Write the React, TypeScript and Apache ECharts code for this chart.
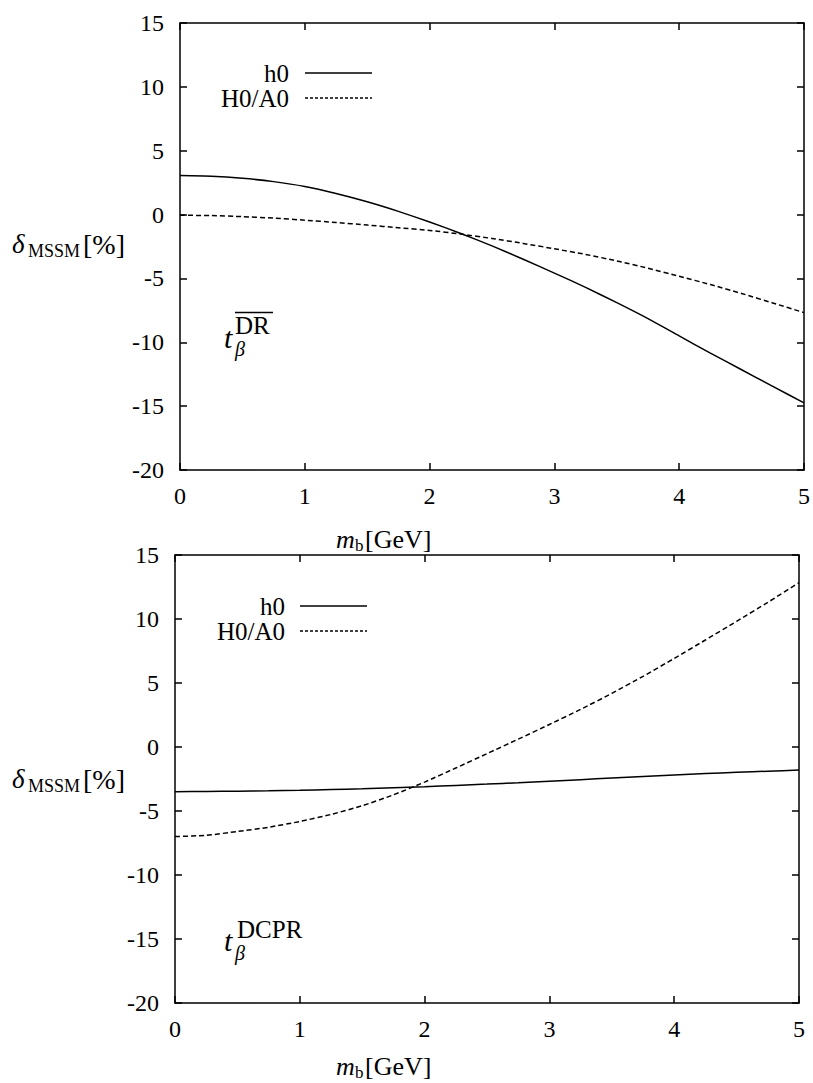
import React, { useEffect, useRef } from "react";
import * as echarts from "echarts";

// m_b [GeV]
const mb = [0, 0.25, 0.5, 0.75, 1, 1.25, 1.5, 1.75, 2, 2.25, 2.5, 2.75, 3, 3.25, 3.5, 3.75, 4, 4.25, 4.5, 4.75, 5];

// Upper panel (t_beta DR-bar), delta_MSSM [%]
const topH0 = [3.05, 3.0, 2.84, 2.58, 2.2, 1.65, 1.0, 0.25, -0.58, -1.48, -2.45, -3.5, -4.58, -5.7, -6.9, -8.15, -9.5, -10.85, -12.15, -13.45, -14.75];
const topHA = [-0.05, -0.08, -0.16, -0.28, -0.44, -0.62, -0.82, -1.03, -1.24, -1.53, -1.87, -2.26, -2.68, -3.12, -3.63, -4.2, -4.83, -5.48, -6.18, -6.92, -7.68];

// Lower panel (t_beta DCPR), delta_MSSM [%]
const botH0 = [-3.49, -3.48, -3.45, -3.42, -3.38, -3.33, -3.27, -3.19, -3.1, -3.0, -2.9, -2.79, -2.67, -2.55, -2.43, -2.31, -2.19, -2.08, -1.98, -1.89, -1.8];
const botHA = [-7.0, -6.9, -6.6, -6.27, -5.82, -5.27, -4.59, -3.74, -2.74, -1.64, -0.52, 0.61, 1.76, 2.94, 4.19, 5.52, 6.92, 8.36, 9.82, 11.3, 12.84];

const xTicks = [0, 1, 2, 3, 4, 5];
const yTicks = [-20, -15, -10, -5, 0, 5, 10, 15];
const legendNames = ["h0", "H0/A0"];

const SERIF = "'Liberation Serif', 'Times New Roman', Times, serif";
const BLACK = "#000";
const DASH = [5, 3];

function pairs(ys: number[]) {
  return mb.map((x, i) => [x, ys[i]]);
}

export default function App() {
  const ref = useRef<HTMLDivElement>(null);

  useEffect(() => {
    if (!ref.current) return;
    const chart = echarts.init(ref.current, undefined, { renderer: "svg" });

    const grids = [
      { left: 180, top: 23, width: 624, height: 447 },
      { left: 175, top: 555, width: 624, height: 448 },
    ];

    const axLine = { show: true, onZero: false, lineStyle: { color: BLACK, width: 1.5 } };
    const axTick = { show: true, inside: true, length: 7, lineStyle: { color: BLACK, width: 1.5 } };
    const labelStyle = { color: BLACK, fontFamily: SERIF, fontSize: 24 };

    const xAxis: any[] = [];
    const yAxis: any[] = [];
    grids.forEach((_, g) => {
      xAxis.push({
        gridIndex: g, type: "value", position: "bottom",
        min: xTicks[0], max: xTicks[xTicks.length - 1], interval: 1,
        axisLine: axLine, axisTick: axTick, splitLine: { show: false },
        axisLabel: { ...labelStyle, margin: 14 },
      });
      xAxis.push({
        gridIndex: g, type: "value", position: "top",
        min: xTicks[0], max: xTicks[xTicks.length - 1], interval: 1,
        axisLine: axLine, axisTick: axTick, splitLine: { show: false },
        axisLabel: { show: false },
      });
      yAxis.push({
        gridIndex: g, type: "value", position: "left",
        min: yTicks[0], max: yTicks[yTicks.length - 1], interval: 5,
        axisLine: axLine, axisTick: axTick, splitLine: { show: false },
        axisLabel: { ...labelStyle, margin: 16 },
      });
      yAxis.push({
        gridIndex: g, type: "value", position: "right",
        min: yTicks[0], max: yTicks[yTicks.length - 1], interval: 5,
        axisLine: axLine, axisTick: axTick, splitLine: { show: false },
        axisLabel: { show: false },
      });
    });

    const mkSeries = (name: string, ys: number[], g: number, dashed: boolean) => ({
      name, type: "line", xAxisIndex: g * 2, yAxisIndex: g * 2,
      data: pairs(ys), showSymbol: false, smooth: 0.2, clip: true,
      lineStyle: { color: BLACK, width: 1.5, type: dashed ? DASH : "solid" },
      itemStyle: { color: BLACK },
    });

    const txt = (x: number, y: number, text: string, size: number, opts: any = {}) => ({
      type: "text", x, y, silent: true,
      style: {
        text, fill: BLACK, fontFamily: SERIF, fontSize: size,
        fontStyle: opts.italic ? "italic" : "normal",
        align: opts.align || "left", verticalAlign: "middle",
      },
    });
    const ln = (x1: number, y1: number, x2: number, y2: number, dashed = false, w = 1.5) => ({
      type: "line", silent: true,
      shape: { x1, y1, x2, y2 },
      style: { stroke: BLACK, lineWidth: w, lineDash: dashed ? [3, 2] : null },
    });

    const graphic: any[] = [];
    // legends
    const legendPos = [
      { tx: 289, lx1: 305, lx2: 372, y1: 73, y2: 98 },
      { tx: 285, lx1: 300, lx2: 367, y1: 606, y2: 631 },
    ];
    legendPos.forEach((p) => {
      graphic.push(txt(p.tx, p.y1, legendNames[0], 25, { align: "right" }));
      graphic.push(ln(p.lx1, p.y1, p.lx2, p.y1));
      graphic.push(txt(p.tx, p.y2, legendNames[1], 25, { align: "right" }));
      graphic.push(ln(p.lx1, p.y2, p.lx2, p.y2, true));
    });

    // x axis titles
    [539, 1066].forEach((cy) => {
      const x0 = 336;
      graphic.push(txt(x0, cy, "m", 26, { italic: true }));
      graphic.push(txt(x0 + 19, cy + 6, "b", 17));
      graphic.push(txt(x0 + 29, cy, "[GeV]", 26));
    });

    // y axis titles
    [244, 779].forEach((cy) => {
      graphic.push(txt(12, cy, "δ", 27, { italic: true }));
      graphic.push(txt(28, cy + 7, "MSSM", 18));
      graphic.push(txt(83, cy, "[%]", 28));
    });

    // annotations
    graphic.push(txt(224, 337, "t", 30, { italic: true }));
    graphic.push(txt(235, 325, "DR", 25));
    graphic.push(ln(235, 312.5, 273, 312.5, false, 1.5));
    graphic.push(txt(235, 349, "β", 20, { italic: true }));

    graphic.push(txt(224, 940, "t", 30, { italic: true }));
    graphic.push(txt(237, 929, "DCPR", 25));
    graphic.push(txt(235, 953, "β", 20, { italic: true }));

    chart.setOption({
      animation: false,
      backgroundColor: "#fff",
      grid: grids.map((g) => ({ ...g, containLabel: false })),
      xAxis, yAxis,
      series: [
        mkSeries("h0", topH0, 0, false),
        mkSeries("H0/A0", topHA, 0, true),
        mkSeries("h0", botH0, 1, false),
        mkSeries("H0/A0", botHA, 1, true),
      ],
      graphic,
    });

    return () => chart.dispose();
  }, []);

  return (
    <div
      ref={ref}
      style={{ position: "absolute", left: 0, top: 0, width: 813, height: 1083, background: "#fff" }}
    />
  );
}
